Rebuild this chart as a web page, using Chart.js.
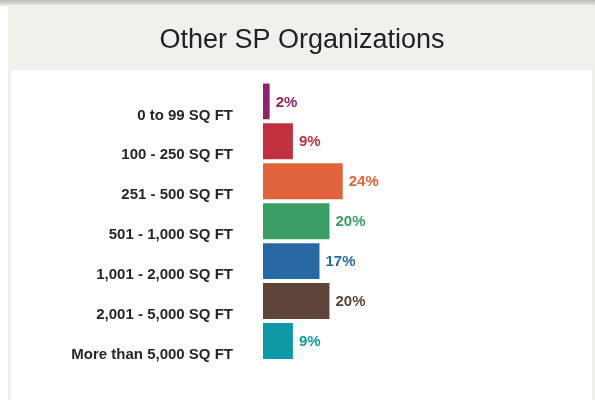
<!DOCTYPE html>
<html>
<head>
<meta charset="utf-8">
<script src="https://cdn.jsdelivr.net/npm/chart.js@4/dist/chart.umd.min.js"></script>
<style>
  html, body { margin: 0; padding: 0; background: #fff; }
  #wrap { position: relative; width: 595px; height: 400px; overflow: hidden; }
  #shadow { position: absolute; left: 0; top: 0; width: 595px; height: 6px;
    background: linear-gradient(to bottom, #b9b9b9, #ecebe8); }
  #head { position: absolute; left: 8px; top: 5px; width: 587px; height: 65px; background: #f1f0ec; }
  #side { position: absolute; left: 8px; top: 70px; width: 587px; height: 330px; background: #f0efeb; }
  #panel { position: absolute; left: 11px; top: 70px; width: 581px; height: 330px; background: #fff; }
  #chart { position: absolute; left: 0; top: 0; }
</style>
</head>
<body>
<div id="wrap">
  <div id="shadow"></div>
  <div id="head"></div>
  <div id="side"></div>
  <div id="panel"></div>
  <canvas id="chart" width="595" height="400"></canvas>
</div>
<script>
const title = "Other SP Organizations";
const categories = [
  "0 to 99 SQ FT",
  "100 - 250 SQ FT",
  "251 - 500 SQ FT",
  "501 - 1,000 SQ FT",
  "1,001 - 2,000 SQ FT",
  "2,001 - 5,000 SQ FT",
  "More than 5,000 SQ FT",
];
const shares = [2, 9, 24, 20, 17, 20, 9];
const barColors = ["#8f2468", "#c0303e", "#e0633d", "#3a9e64", "#2869a4", "#5e4439", "#0f98a6"];

const fontFamily = "'Liberation Sans', Arial, Helvetica, sans-serif";

// writes "NN%" just past the end of each bar
const valueLabels = {
  id: "valueLabels",
  afterDatasetsDraw(chart) {
    const { ctx } = chart;
    const meta = chart.getDatasetMeta(0);
    ctx.save();
    ctx.font = `bold 15px ${fontFamily}`;
    ctx.textAlign = "left";
    ctx.textBaseline = "middle";
    meta.data.forEach((bar, i) => {
      ctx.fillStyle = barColors[i];
      ctx.fillText(`${shares[i]}%`, bar.x + 6, bar.y + 1);
    });
    ctx.restore();
  },
};

new Chart(document.getElementById("chart"), {
  type: "bar",
  data: {
    labels: categories,
    datasets: [{
      data: shares,
      backgroundColor: barColors,
      borderWidth: 0,
      barPercentage: 0.9,
      categoryPercentage: 1,
    }],
  },
  options: {
    indexAxis: "y",
    responsive: false,
    animation: false,
    layout: { padding: { left: 12, right: 3, top: 0, bottom: 32 } },
    scales: {
      x: { display: false, min: 0, max: 99 },
      y: {
        grid: { display: false, drawTicks: false },
        border: { display: false },
        afterFit: (scale) => { scale.width = 263 - 12; },
        ticks: {
          padding: 30,
          labelOffset: 14,
          color: "#262626",
          font: { family: fontFamily, size: 15, weight: "bold" },
        },
      },
    },
    plugins: {
      legend: { display: false },
      tooltip: { enabled: false },
      title: {
        display: true,
        text: title,
        color: "#222",
        font: { family: fontFamily, size: 27, weight: "normal", lineHeight: 1.2 },
        padding: { top: 24, bottom: 25 },
      },
    },
  },
  plugins: [valueLabels],
});
</script>
</body>
</html>
